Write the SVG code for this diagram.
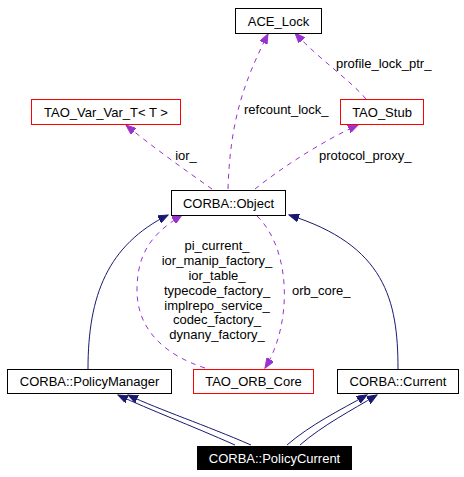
<svg xmlns="http://www.w3.org/2000/svg" width="464" height="477" viewBox="0 0 464 477">
<style>
  text { font-family: "Liberation Sans", Arial, sans-serif; font-size: 13px; fill: #000; }
  .n { text-anchor: middle; }
  .box { fill: #fff; stroke: #000; stroke-width: 1; }
  .red { fill: #fff; stroke: #ff0000; stroke-width: 1; }
  .inh { fill: none; stroke: #191970; stroke-width: 1; marker-end: url(#ah); }
  .use { fill: none; stroke: #9a32cd; stroke-width: 1; stroke-dasharray: 5,5; marker-end: url(#ap); }
</style>
<defs>
  <marker id="ah" markerUnits="userSpaceOnUse" markerWidth="11" markerHeight="8" refX="10" refY="4" orient="auto">
    <path d="M0,0 L10,4 L0,8 z" fill="#191970" stroke="#191970" stroke-width="1"/>
  </marker>
  <marker id="ap" markerUnits="userSpaceOnUse" markerWidth="11" markerHeight="8" refX="10" refY="4" orient="auto">
    <path d="M0,0 L10,4 L0,8 z" fill="#9a32cd" stroke="#9a32cd" stroke-width="1"/>
  </marker>
</defs>
<rect width="464" height="477" fill="#fff"/>
<g id="connectors">
  <path class="inh" d="M88,369 C88,295 108,245 168,215"/>
  <path class="inh" d="M398,369 C398,300 385,245 289,215"/>
  <path class="inh" d="M235,445 C190,425 150,410 118,395"/>
  <path class="inh" d="M251,445 C205,425 160,410 128,395"/>
  <path class="inh" d="M287,445 C310,425 340,410 367,395"/>
  <path class="inh" d="M300,445 C323,425 352,410 377,395"/>
  <path class="use" d="M212,189 C185,170 150,145 126,125"/>
  <path class="use" d="M228,189 C230,125 242,85 268,34"/>
  <path class="use" d="M255,189 C285,165 325,140 358,125"/>
  <path class="use" d="M366,99 C350,80 320,60 295,33"/>
  <path class="use" d="M205,368 C165,355 137,330 137,290 C137,250 155,232 182,215"/>
  <path class="use" d="M257,216 C292,250 292,325 265,368"/>
  <text x="186" y="160" class="n">ior_</text>
  <text x="244" y="114">refcount_lock_</text>
  <text x="336" y="68">profile_lock_ptr_</text>
  <text x="319" y="160">protocol_proxy_</text>
  <text x="292" y="295">orb_core_</text>
  <text x="217" y="250" class="n">pi_current_</text>
  <text x="217" y="265" class="n">ior_manip_factory_</text>
  <text x="217" y="280" class="n">ior_table_</text>
  <text x="217" y="295" class="n">typecode_factory_</text>
  <text x="217" y="310" class="n">implrepo_service_</text>
  <text x="217" y="324" class="n">codec_factory_</text>
  <text x="217" y="339" class="n">dynany_factory_</text>
</g>
<g id="ACE_Lock">
  <rect class="box" x="235.5" y="8.5" width="86" height="25"/>
  <text x="278.5" y="25.5" class="n">ACE_Lock</text>
</g>
<g id="TAO_Var_Var_T">
  <rect class="red" x="31.5" y="99.5" width="149" height="25"/>
  <text x="106" y="116.5" class="n">TAO_Var_Var_T&lt; T &gt;</text>
</g>
<g id="TAO_Stub">
  <rect class="red" x="340.5" y="99.5" width="83" height="25"/>
  <text x="382" y="116.5" class="n">TAO_Stub</text>
</g>
<g id="CORBA_Object">
  <rect class="box" x="171.5" y="190.5" width="114" height="25"/>
  <text x="228.5" y="207.5" class="n">CORBA::Object</text>
</g>
<g id="CORBA_PolicyManager">
  <rect class="box" x="7.5" y="369.5" width="164" height="24"/>
  <text x="89.5" y="386" class="n">CORBA::PolicyManager</text>
</g>
<g id="TAO_ORB_Core">
  <rect class="red" x="193.5" y="369.5" width="120" height="24"/>
  <text x="253.5" y="386" class="n">TAO_ORB_Core</text>
</g>
<g id="CORBA_Current">
  <rect class="box" x="337.5" y="369.5" width="121" height="24"/>
  <text x="398" y="386" class="n">CORBA::Current</text>
</g>
<g id="CORBA_PolicyCurrent">
  <rect x="197" y="446" width="155" height="24" fill="#000"/>
  <text x="274.5" y="463" class="n" style="fill:#fff">CORBA::PolicyCurrent</text>
</g>
</svg>
